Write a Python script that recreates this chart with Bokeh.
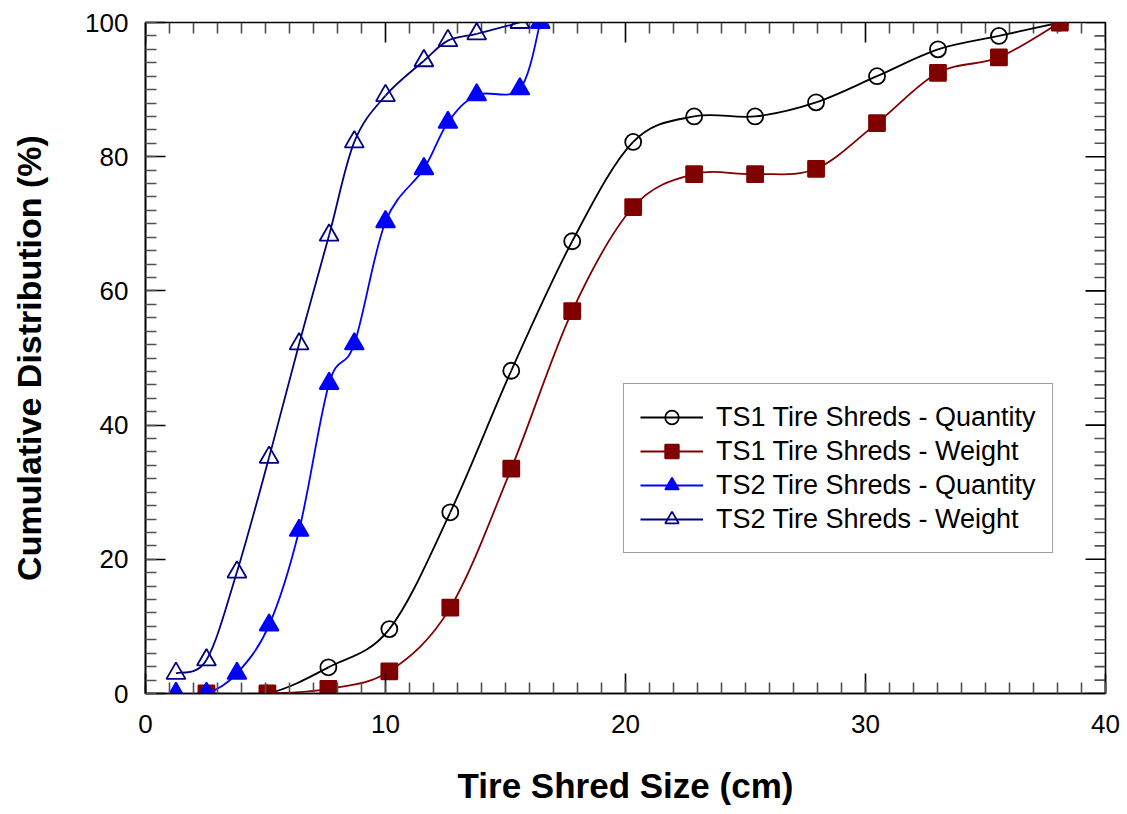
import math
from bokeh.plotting import figure
from bokeh.models import Range1d, Legend, LegendItem, FixedTicker
from bokeh.embed import file_html
from bokeh.resources import INLINE

# ---- data ----
ts1_x = [2.54, 5.08, 7.62, 10.16, 12.70, 15.24, 17.78, 20.32, 22.86, 25.40, 27.94, 30.48, 33.02, 35.56, 38.10]
ts1_qty = [0, 0, 3.9, 9.6, 27.0, 48.1, 67.4, 82.2, 86.0, 86.0, 88.1, 92.0, 96.0, 98.0, 100]
ts1_wt = [0, 0, 0.7, 3.3, 12.8, 33.5, 57.0, 72.5, 77.4, 77.4, 78.2, 85.0, 92.5, 94.8, 100]
ts2_q_x = [1.27, 2.54, 3.81, 5.15, 6.40, 7.65, 8.70, 10.0, 11.6, 12.6, 13.8, 15.6, 16.45]
ts2_qty = [0, 0, 3.0, 10.2, 24.3, 46.2, 52.1, 70.3, 78.2, 85.1, 89.2, 90.1, 100]
ts2_w_x = [1.27, 2.54, 3.81, 5.15, 6.40, 7.65, 8.70, 10.0, 11.6, 12.6, 13.8, 15.6]
ts2_wt = [3.0, 5.0, 18.1, 35.2, 52.1, 68.3, 82.2, 89.1, 94.3, 97.3, 98.3, 100]

labels = ["TS1 Tire Shreds - Quantity", "TS1 Tire Shreds - Weight",
          "TS2 Tire Shreds - Quantity", "TS2 Tire Shreds - Weight"]

x_major = [0, 10, 20, 30, 40]
x_minor = list(range(0, 41))
y_major = [0, 20, 40, 60, 80, 100]
y_minor = list(range(0, 101, 2))

FONT = "Liberation Sans"
MINOR_COL = "#505050"

p = figure(frame_width=960, frame_height=671,
           x_range=Range1d(0, 40), y_range=Range1d(0, 100),
           output_backend="svg", toolbar_location=None,
           min_border_left=145, min_border_right=20,
           min_border_top=22, min_border_bottom=119)
p.background_fill_color = "white"
p.border_fill_color = "white"
p.grid.visible = False
p.outline_line_color = "black"
p.outline_line_width = 1.6

p.xaxis.ticker = FixedTicker(ticks=x_major, minor_ticks=x_minor)
p.yaxis.ticker = FixedTicker(ticks=y_major, minor_ticks=y_minor)
for ax in list(p.xaxis) + list(p.yaxis):
    ax.axis_line_color = "black"
    ax.axis_line_width = 1.6
    ax.major_tick_in = 20
    ax.major_tick_out = 0
    ax.minor_tick_in = 11
    ax.minor_tick_out = 0
    ax.major_tick_line_color = "black"
    ax.major_tick_line_width = 1.6
    ax.minor_tick_line_color = MINOR_COL
    ax.minor_tick_line_width = 1.6
    ax.major_label_text_font = FONT
    ax.major_label_text_font_size = "26px"
    ax.major_label_text_color = "black"
    ax.axis_label_text_font = FONT
    ax.axis_label_text_font_style = "bold"
    ax.axis_label_text_color = "black"
for ax in p.xaxis:
    ax.major_label_standoff = 21
    ax.axis_label = "Tire Shred Size (cm)"
    ax.axis_label_standoff = 30
    ax.axis_label_text_font_size = "35px"
for ax in p.yaxis:
    ax.major_label_standoff = 17
    ax.axis_label = "Cumulative Distribution (%)"
    ax.axis_label_standoff = 34
    ax.axis_label_text_font_size = "34px"

# mirrored inward ticks on the top and right edges
top_minor = [v for v in x_minor if v not in x_major]
right_minor = [v for v in y_minor if v not in y_major]
p.ray(x=top_minor, y=[100] * len(top_minor), length=11, length_units="screen",
      angle=-math.pi / 2, line_color=MINOR_COL, line_width=1.6)
p.ray(x=x_major, y=[100] * len(x_major), length=20, length_units="screen",
      angle=-math.pi / 2, line_color="black", line_width=1.6)
p.ray(x=[40] * len(right_minor), y=right_minor, length=11, length_units="screen",
      angle=math.pi, line_color=MINOR_COL, line_width=1.6)
p.ray(x=[40] * len(y_major), y=y_major, length=20, length_units="screen",
      angle=math.pi, line_color="black", line_width=1.6)


def catmull_bezier(xs, ys):
    n = len(xs)
    x0, y0, x1, y1, cx0, cy0, cx1, cy1 = [], [], [], [], [], [], [], []
    for i in range(n - 1):
        xa, ya = xs[max(i - 1, 0)], ys[max(i - 1, 0)]
        xb, yb = xs[i], ys[i]
        xc, yc = xs[i + 1], ys[i + 1]
        xd, yd = xs[min(i + 2, n - 1)], ys[min(i + 2, n - 1)]
        x0.append(xb); y0.append(yb); x1.append(xc); y1.append(yc)
        cx0.append(xb + (xc - xa) / 6.0); cy0.append(yb + (yc - ya) / 6.0)
        cx1.append(xc - (xd - xb) / 6.0); cy1.append(yc - (yd - yb) / 6.0)
    return dict(x0=x0, y0=y0, x1=x1, y1=y1, cx0=cx0, cy0=cy0, cx1=cx1, cy1=cy1)


series = [
    (ts1_x, ts1_qty, "black", "circle", None, 16),
    (ts1_x, ts1_wt, "#800000", "square", "#800000", 16),
    (ts2_q_x, ts2_qty, "#0000ff", "triangle", "#0000ff", 19),
    (ts2_w_x, ts2_wt, "#000080", "triangle", None, 19),
]

items = []
for (xs, ys, col, mk, fill, sz), lab in zip(series, labels):
    p.bezier(line_color=col, line_width=1.8, **catmull_bezier(xs, ys))
    leg_line = p.line([xs[0]], [ys[0]], line_color=col, line_width=1.8)
    sc = p.scatter(xs, ys, marker=mk, size=sz, line_color=col, line_width=1.8,
                   fill_color=fill, fill_alpha=1.0 if fill else 0.0)
    items.append(LegendItem(label=lab, renderers=[leg_line, sc]))

legend = Legend(items=items, location=(478, 140))
legend.label_text_font = FONT
legend.label_text_font_size = "27px"
legend.label_text_color = "black"
legend.glyph_width = 63
legend.glyph_height = 34
legend.label_height = 34
legend.label_standoff = 13
legend.spacing = 0
legend.padding = 16
legend.margin = 0
legend.border_line_color = "#404040"
legend.border_line_width = 1.6
legend.background_fill_color = "white"
legend.background_fill_alpha = 1.0
p.add_layout(legend, "center")

open("out.html", "w").write(file_html(p, INLINE))
